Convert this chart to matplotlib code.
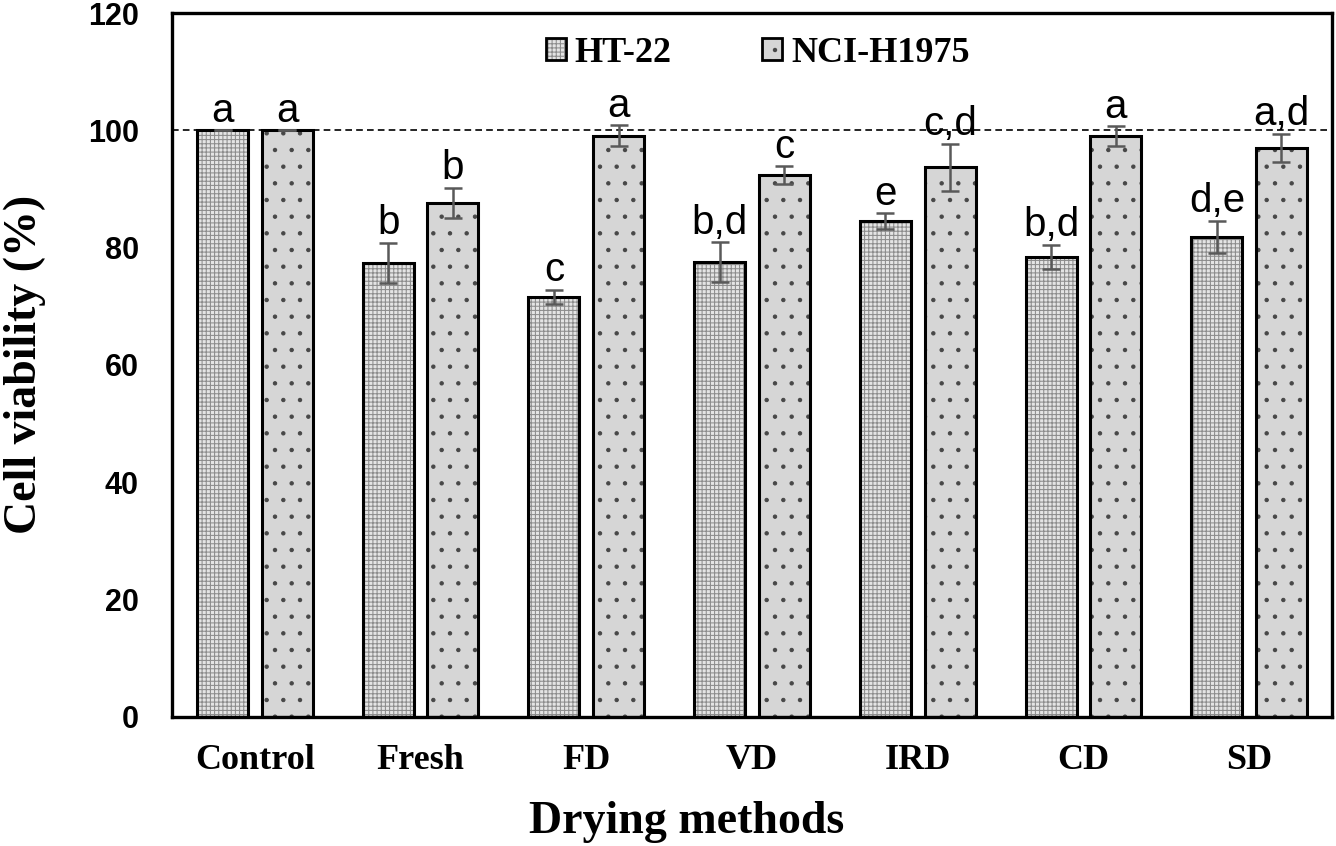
import matplotlib
matplotlib.use("Agg")
import matplotlib.pyplot as plt
import matplotlib.patches as mpatches
import numpy as np

# data
methods = ["Control", "Fresh", "FD", "VD", "IRD", "CD", "SD"]
ht22 = [100, 77.4, 71.6, 77.5, 84.5, 78.4, 81.8]
ht22_err = [0, 3.4, 1.2, 3.4, 1.3, 2.1, 2.8]
nci = [100, 87.6, 99.1, 92.4, 93.7, 99.0, 97.0]
nci_err = [0, 2.6, 1.8, 1.5, 4.0, 1.7, 2.4]
ht22_sig = ["a", "b", "c", "b,d", "e", "b,d", "d,e"]
nci_sig = ["a", "b", "a", "c", "c,d", "a", "a,d"]
yticks = [0, 20, 40, 60, 80, 100, 120]

plt.rcParams["hatch.linewidth"] = 0.75

W, H = 1336, 846
fig = plt.figure(figsize=(W / 100, H / 100), dpi=100)
ax = fig.add_axes([172 / W, 1 - 716.5 / H, 1160 / W, 703.5 / H])

x = np.arange(len(methods))
width = 0.308
off = 0.195

series = [
    (ht22, ht22_err, ht22_sig, -off, "#e4e4e4", "#8c8c8c", "++++", "HT-22"),
    (nci, nci_err, nci_sig, off, "#d6d6d6", "#474747", ".", "NCI-H1975"),
]

ax.axhline(100, color="black", lw=1.2, ls=(0, (4, 2.5)), zorder=1)

handles = []
labels = []
for vals, errs, sig, dx, face, hcol, hatch, name in series:
    ax.bar(x + dx, vals, width, color=face, edgecolor=hcol, hatch=hatch,
           linewidth=0, zorder=2)
    ax.bar(x + dx, vals, width, fill=False, edgecolor="black", linewidth=2.2, zorder=3)
    ax.errorbar(x + dx, vals, yerr=errs, fmt="none", ecolor="#595959",
                elinewidth=1.8, capsize=6.5, capthick=1.8, zorder=4)
    for xi, v, e, s in zip(x + dx, vals, errs, sig):
        ax.annotate(s, (xi, v + e), xytext=(0, 6), textcoords="offset points",
                    ha="center", va="baseline", fontsize=29,
                    family="Liberation Sans")
    h_fill = mpatches.Patch(facecolor=face, edgecolor=hcol, hatch=hatch, linewidth=0)
    h_edge = mpatches.Patch(fill=False, edgecolor="black", linewidth=2.0)
    handles.append((h_fill, h_edge))
    labels.append(name)

ax.set_xlim(-0.5, len(methods) - 0.5)
ax.set_ylim(0, 120)
ax.set_yticks(yticks)
ax.set_xticks(x)
ax.set_xticklabels(methods, family="Liberation Serif", fontweight="bold", fontsize=26)
ax.set_yticklabels([str(t) for t in yticks], family="Liberation Sans",
                   fontweight="bold", fontsize=22)
ax.tick_params(axis="x", length=0, pad=20)
ax.tick_params(axis="y", length=0, pad=24)

for sp in ax.spines.values():
    sp.set_linewidth(2.4)
    sp.set_color("black")

ax.set_xlabel("Drying methods", family="Liberation Serif", fontweight="bold", fontsize=33)
ax.set_ylabel("Cell viability (%)", family="Liberation Serif", fontweight="bold", fontsize=33)
ax.xaxis.set_label_coords(0.444, -0.120)
ax.yaxis.set_label_coords(-0.1086, 0.5)

ax.legend(handles, labels, loc="center", bbox_to_anchor=(0.505, 0.943), ncol=2,
          frameon=False, handlelength=0.55, handleheight=0.55, handletextpad=0.25,
          columnspacing=2.5, borderpad=0,
          prop={"family": "Liberation Serif", "weight": "bold", "size": 26})

fig.savefig("out.png", dpi=100)
